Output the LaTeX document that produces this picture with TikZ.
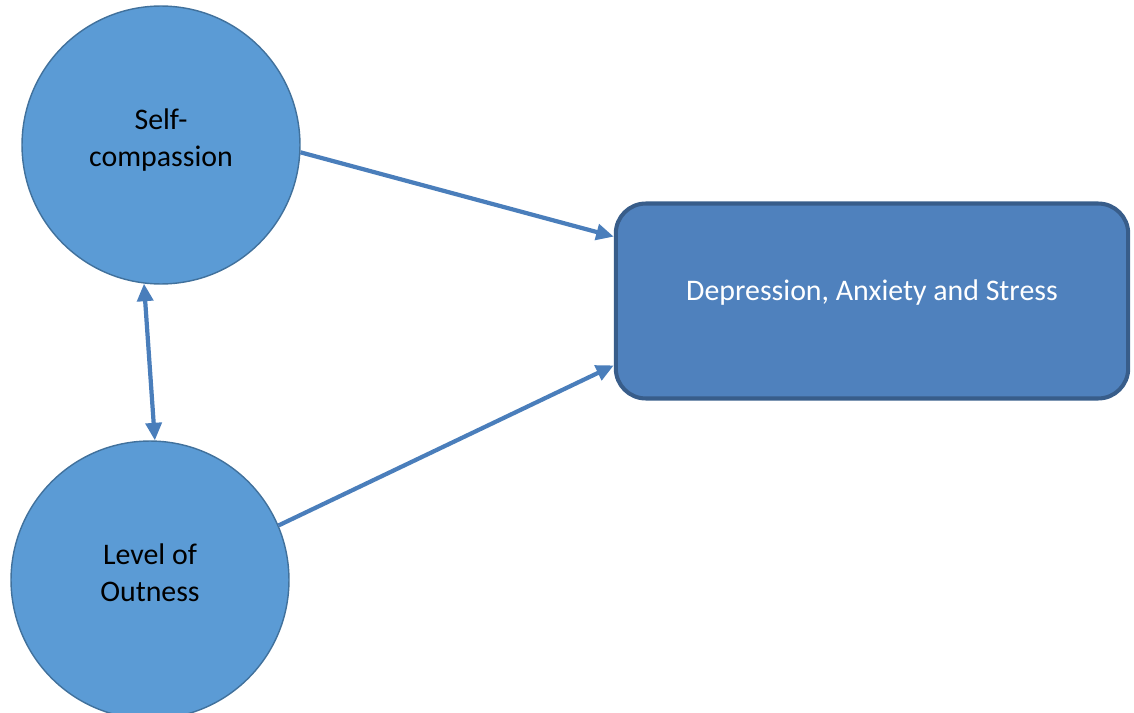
\documentclass[tikz,border=0pt]{standalone}
\usepackage{fontspec}
\setmainfont{Carlito}
\usepackage{tikz}
\usetikzlibrary{arrows.meta, positioning}
\definecolor{circlefill}{HTML}{5B9BD5}
\definecolor{circleline}{HTML}{41719C}
\definecolor{boxfill}{HTML}{4F81BD}
\definecolor{boxline}{HTML}{385D8A}
\definecolor{arrowcolor}{HTML}{4A7EBB}

\begin{document}
\begin{tikzpicture}[
    x=0.02cm, y=-0.02cm,
    factor/.style={circle, fill=circlefill, draw=circleline, line width=0.8pt,
                   minimum size=5.56cm, inner sep=0pt, align=center,
                   text depth=0.3cm, font=\fontsize{17}{21}\selectfont},
    outcome/.style={rectangle, rounded corners=0.6cm, fill=boxfill, draw=boxline,
                    line width=2.3pt, minimum width=10.25cm, minimum height=3.9cm,
                    text=white, text depth=0.45cm, font=\fontsize{17}{21}\selectfont},
    path/.style={draw=arrowcolor, line width=2.4pt,
                 -{Triangle[length=10pt, width=9pt]}},
    link/.style={draw=arrowcolor, line width=2.4pt,
                 {Triangle[length=10pt, width=9pt]}-{Triangle[length=10pt, width=9pt]}},
]
\useasboundingbox (0,0) rectangle (1134,713);
% Predictors
\node[factor] (selfcomp) at (161,145) {Self-\\compassion};
\node[factor] (outness) at (150,580) {Level of\\Outness};
% Outcome
\node[outcome] (das) at (872,301) {Depression, Anxiety and Stress};
% Paths
\draw[path] (selfcomp.-3) -- (das.166);
\draw[path] (outness.23) -- (das.194);
\draw[link] (selfcomp.263.6) -- (outness.88.3);
\end{tikzpicture}
\end{document}
